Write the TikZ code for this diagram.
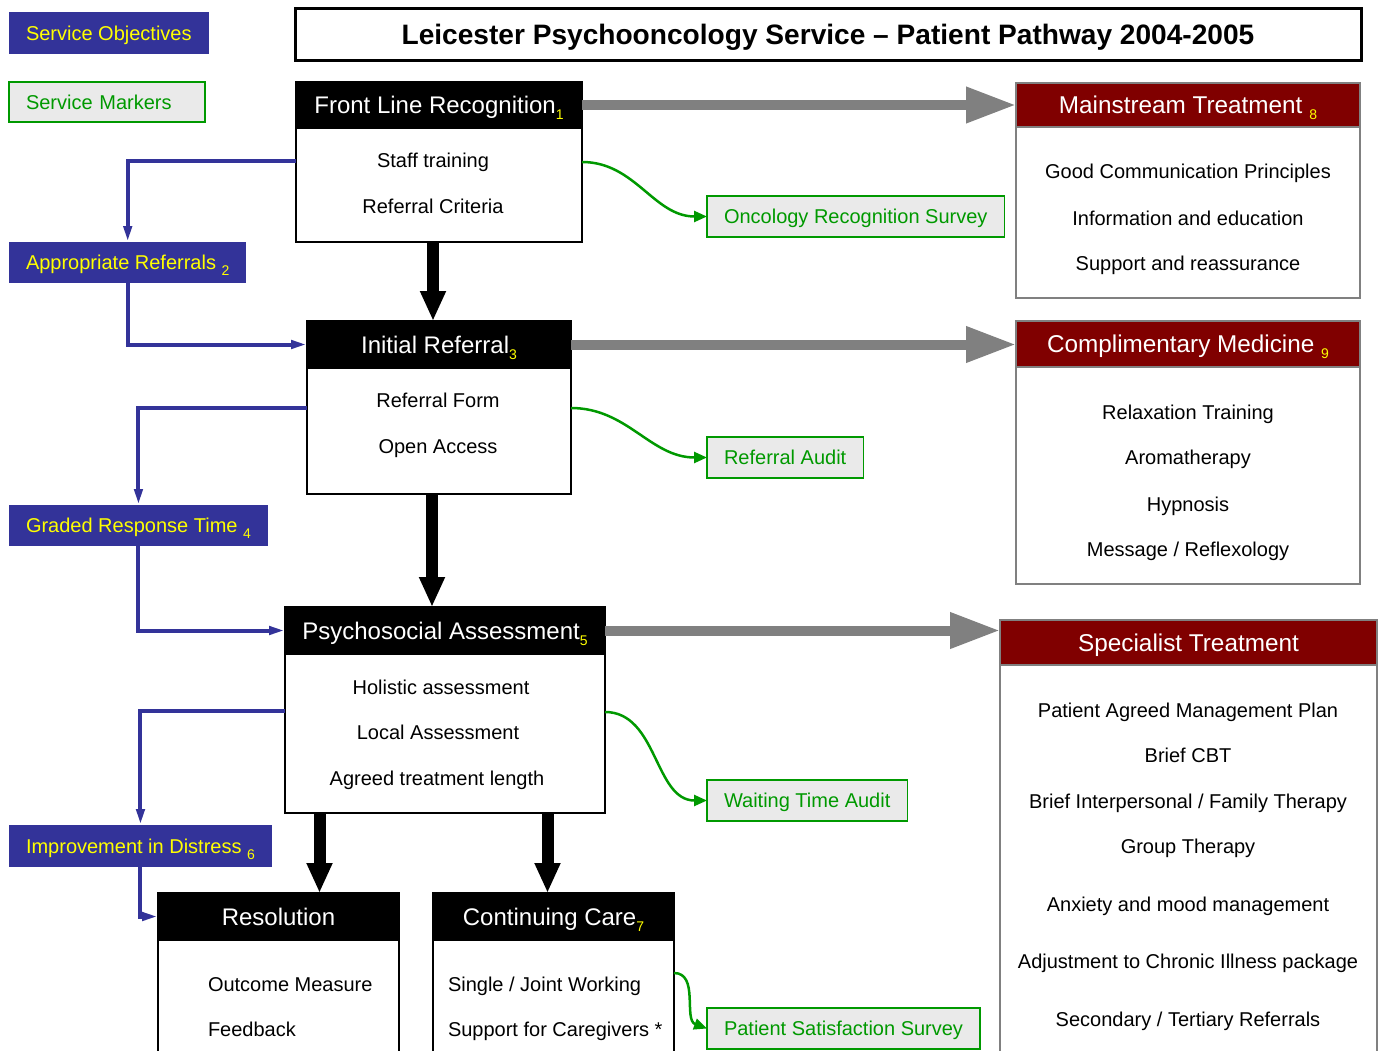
\documentclass[tikz,border=0pt]{standalone}
\usepackage{fontspec}
\setmainfont{Liberation Sans}
\usetikzlibrary{positioning,arrows.meta}

\definecolor{objblue}{HTML}{333399}
\definecolor{objyellow}{HTML}{FFFF00}
\definecolor{markgreen}{HTML}{009900}
\definecolor{markgray}{HTML}{EAEAEA}
\definecolor{treatred}{HTML}{800000}
\definecolor{feedgray}{HTML}{808080}

\newcommand{\idx}[1]{\textcolor{objyellow}{\fontsize{14}{14}\selectfont\raisebox{-6pt}{#1}}}

\begin{document}
\begin{tikzpicture}[x=1pt, y=-1pt,
    every node/.style={inner sep=0pt, outer sep=0pt},
    title/.style={draw=black, line width=3pt, anchor=north west, font=\fontsize{28.1}{32}\selectfont\bfseries, text height=20pt, text depth=0pt},
    objective/.style={fill=objblue, text=objyellow, anchor=north west, inner xsep=17pt, font=\fontsize{20}{22}\selectfont, text height=14.3pt, text depth=0pt},
    marker/.style={draw=markgreen, line width=1.5pt, fill=markgray, text=markgreen, anchor=north west, inner xsep=17pt, font=\fontsize{20}{22}\selectfont, text height=14.3pt, text depth=0pt},
    stagehead/.style={fill=black, draw=black, line width=1.5pt, text=white, anchor=north west, font=\fontsize{24}{28}\selectfont, text height=17pt, text depth=0pt},
    stagebody/.style={draw=black, line width=1.5pt, fill=white},
    treathead/.style={fill=treatred, draw=feedgray, line width=2pt, text=white, anchor=north west, font=\fontsize{24.3}{28}\selectfont, text height=17pt, text depth=0pt},
    treatbody/.style={draw=feedgray, line width=2pt, fill=white},
    item/.style={font=\fontsize{20}{22}\selectfont, text height=14.3pt, text depth=0pt},
    flow/.style={draw=black, line width=12pt, -{Triangle[length=30pt,width=24pt]}},
    feed/.style={draw=feedgray, line width=10pt, -{Triangle[length=50pt,width=34pt]}},
    link/.style={draw=objblue, line width=4pt, -{Triangle[length=16pt,width=8pt]}},
    check/.style={draw=markgreen, line width=2.5pt, -{Triangle[length=13pt,width=11pt]}}]

    \useasboundingbox (0,0) rectangle (1380,1051);
    \clip (0,0) rectangle (1380,1051);

    \node[title, minimum width=1066, minimum height=52] (title) at (295,9) {Leicester Psychooncology Service \textendash{} Patient Pathway 2004-2005};

    % key
    \node[objective, minimum height=42] (objkey) at (9,12) {Service Objectives};
    \node[marker, text width=162, align=left, minimum height=40] (markkey) at (9,82) {Service Markers};

    % pathway stages
    \node[stagehead, minimum width=286, minimum height=46] (flr) at (296,82) {Front Line Recognition\idx{1}};
    \node[stagebody, minimum width=286, minimum height=114, below=0pt of flr] (flrbody) {};
    \node[item] (flr1) at (433,160) {Staff training};
    \node[item] (flr2) at (433,206) {Referral Criteria};

    \node[stagehead, minimum width=264, minimum height=47] (ir) at (307,321) {Initial Referral\idx{3}};
    \node[stagebody, minimum width=264, minimum height=126, below=0pt of ir] (irbody) {};
    \node[item] (ir1) at (438,400) {Referral Form};
    \node[item] (ir2) at (438,446) {Open Access};

    \node[stagehead, minimum width=320, minimum height=47] (pa) at (285,607) {Psychosocial Assessment\idx{5}};
    \node[stagebody, minimum width=320, minimum height=159, below=0pt of pa] (pabody) {};
    \node[item] (pa1) at (441,687) {Holistic assessment};
    \node[item] (pa2) at (438,732) {Local Assessment};
    \node[item] (pa3) at (437,778) {Agreed treatment length};

    \node[stagehead, minimum width=241, minimum height=47] (res) at (158,893) {Resolution};
    \node[stagebody, minimum width=241, minimum height=130, below=0pt of res] (resbody) {};
    \node[item, anchor=west] (res1) at (208,984) {Outcome Measure};
    \node[item, anchor=west] (res2) at (208,1029) {Feedback};

    \node[stagehead, minimum width=241, minimum height=47] (cc) at (433,893) {Continuing Care\idx{7}};
    \node[stagebody, minimum width=241, minimum height=130, below=0pt of cc] (ccbody) {};
    \node[item, anchor=west] (cc1) at (448,984) {Single / Joint Working};
    \node[item, anchor=west] (cc2) at (448,1029) {Support for Caregivers *};

    % treatments
    \node[treathead, minimum width=344, minimum height=44] (mt) at (1016,83) {Mainstream Treatment \idx{8}};
    \node[treatbody, minimum width=344, minimum height=171, below=0pt of mt] (mtbody) {};
    \node[item] (mt1) at (1188,171) {Good Communication Principles};
    \node[item] (mt2) at (1188,218) {Information and education};
    \node[item] (mt3) at (1188,263) {Support and reassurance};

    \node[treathead, minimum width=344, minimum height=46] (cm) at (1016,321) {Complimentary Medicine \idx{9}};
    \node[treatbody, minimum width=344, minimum height=217, below=0pt of cm] (cmbody) {};
    \node[item] (cm1) at (1188,412) {Relaxation Training};
    \node[item] (cm2) at (1188,457) {Aromatherapy};
    \node[item] (cm3) at (1188,504) {Hypnosis};
    \node[item] (cm4) at (1188,549) {Message / Reflexology};

    \node[treathead, minimum width=377, minimum height=45] (st) at (1000,620) {Specialist Treatment};
    \node[treatbody, minimum width=377, minimum height=420, below=0pt of st] (stbody) {};
    \node[item] (st1) at (1188,710) {Patient Agreed Management Plan};
    \node[item] (st2) at (1188,755) {Brief CBT};
    \node[item] (st3) at (1188,801) {Brief Interpersonal / Family Therapy};
    \node[item] (st4) at (1188,846) {Group Therapy};
    \node[item] (st5) at (1188,904) {Anxiety and mood management};
    \node[item] (st6) at (1188,961) {Adjustment to Chronic Illness package};
    \node[item] (st7) at (1188,1019) {Secondary / Tertiary Referrals};

    % service objectives
    \node[objective, minimum height=41] (ar) at (9,242) {Appropriate Referrals \idx{2}};
    \node[objective, minimum height=41] (grt) at (9,505) {Graded Response Time \idx{4}};
    \node[objective, minimum height=42] (imp) at (9,825) {Improvement in Distress \idx{6}};

    % service markers
    \node[marker, minimum height=41] (ors) at (707,196) {Oncology Recognition Survey};
    \node[marker, minimum height=41] (ra) at (707,437) {Referral Audit};
    \node[marker, minimum height=41] (wta) at (707,780) {Waiting Time Audit};
    \node[marker, minimum height=41] (pss) at (707,1008) {Patient Satisfaction Survey};

    \coordinate (flrL) at ([yshift=-33pt]flrbody.north west);
    \coordinate (flrR) at ([yshift=-34pt]flrbody.north east);
    \coordinate (irL) at ([yshift=-40pt]irbody.north west);
    \coordinate (irR) at ([yshift=-40pt]irbody.north east);
    \coordinate (paL) at ([yshift=-57pt]pabody.north west);
    \coordinate (paR) at ([yshift=-58pt]pabody.north east);
    \coordinate (ccR) at ([yshift=-33pt]ccbody.north east);

    \draw[feed] (flr.east) -- (flr.east -| mt.west);
    \draw[feed] (ir.east) -- (ir.east -| cm.west);
    \draw[feed] (pa.east) -- (pa.east -| st.west);

    \draw[flow] ([xshift=-6pt]flrbody.south) -- ([xshift=-6pt]ir.north);
    \draw[flow] ([xshift=-7pt]irbody.south) -- ([xshift=-7pt]irbody.south |- pa.north);
    \draw[flow] ([xshift=41pt]res.north |- pabody.south) -- ([xshift=41pt]res.north);
    \draw[flow] ([xshift=-6pt]cc.north |- pabody.south) -- ([xshift=-6pt]cc.north);

    \draw[link] (flrL) -| (ar.north);
    \draw[link] (ar.south) |- (ir.west);
    \draw[link] (irL) -| (grt.north);
    \draw[link] (grt.south) |- (pa.west);
    \draw[link] (paL) -| (imp.north);
    \draw[link] (imp.south) |- (res.west);

    \draw[check] (flrR) to[out=0, in=180] (ors.west);
    \draw[check] (irR) to[out=0, in=180] (ra.west);
    \draw[check] (paR) to[out=0, in=180] (wta.west);
    \draw[check] (ccR) to[out=0, in=160] (pss.west);

\end{tikzpicture}
\end{document}
